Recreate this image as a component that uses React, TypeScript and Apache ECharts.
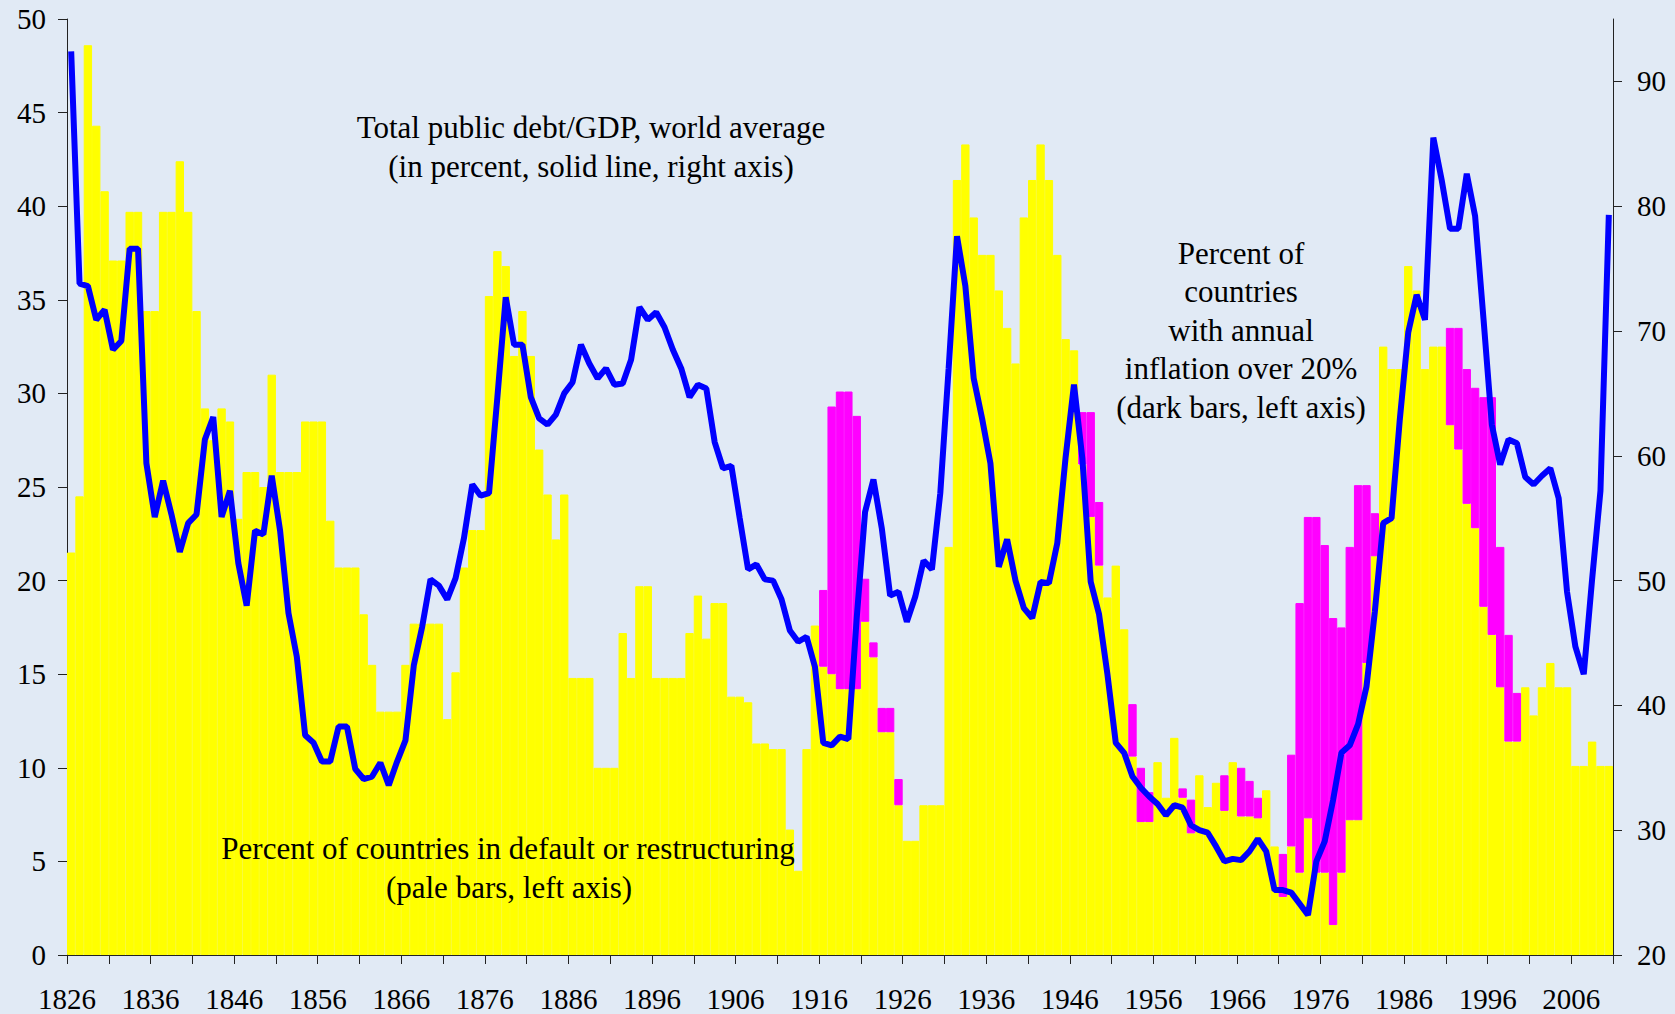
import React, { useEffect, useRef } from "react";
import * as echarts from "echarts";

const START_YEAR = 1826;
const AXIS_END_YEAR = 2011;

// Percent of countries in default or restructuring (pale bars, left axis), 1826-2010
const defaultPct = [
  21.5, 24.5, 48.6, 44.3, 40.8, 37.1, 37.1, 39.7, 39.7, 34.4, // 1826-1835
  34.4, 39.7, 39.7, 42.4, 39.7, 34.4, 29.2, 27.5, 29.2, 28.5, // 1836-1845
  23.3, 25.8, 25.8, 25.0, 31.0, 25.8, 25.8, 25.8, 28.5, 28.5, // 1846-1855
  28.5, 23.2, 20.7, 20.7, 20.7, 18.2, 15.5, 13.0, 13.0, 13.0, // 1856-1865
  15.5, 17.7, 17.7, 17.7, 17.7, 12.6, 15.1, 20.7, 22.7, 22.7, // 1866-1875
  35.2, 37.6, 36.8, 32.0, 34.4, 32.0, 27.0, 24.6, 22.2, 24.6, // 1876-1885
  14.8, 14.8, 14.8, 10.0, 10.0, 10.0, 17.2, 14.8, 19.7, 19.7, // 1886-1895
  14.8, 14.8, 14.8, 14.8, 17.2, 19.2, 16.9, 18.8, 18.8, 13.8, // 1896-1905
  13.8, 13.5, 11.3, 11.3, 11.0, 11.0, 6.7, 4.5, 11.0, 17.6,   // 1906-1915
  15.4, 15.0, 14.2, 14.2, 14.2, 17.8, 15.9, 11.9, 11.9, 8.0,  // 1916-1925
  6.1, 6.1, 8.0, 8.0, 8.0, 21.8, 41.4, 43.3, 39.4, 37.4,      // 1926-1935
  37.4, 35.5, 33.5, 31.6, 39.4, 41.4, 43.3, 41.4, 37.4, 32.9, // 1936-1945
  32.3, 26.2, 23.4, 20.8, 19.1, 20.8, 17.4, 10.6, 7.1, 7.1,   // 1946-1955
  10.3, 8.4, 11.6, 8.4, 6.5, 9.6, 7.9, 9.2, 7.7, 10.3,        // 1956-1965
  7.4, 7.4, 7.3, 8.8, 5.8, 3.1, 5.8, 4.4, 7.3, 4.4,           // 1966-1975
  4.4, 1.6, 4.4, 7.2, 7.2, 15.6, 21.3, 32.5, 31.3, 31.3,      // 1976-1985
  36.8, 35.5, 31.3, 32.5, 32.5, 28.3, 27.0, 24.1, 22.8, 18.6, // 1986-1995
  17.1, 14.3, 11.4, 11.4, 14.3, 12.8, 14.3, 15.6, 14.3, 14.3, // 1996-2005
  10.1, 10.1, 11.4, 10.1, 10.1,                               // 2006-2010
];

// Total public debt/GDP, world average (solid line, right axis), 1826-2010
const debtToGdp = [
  92.4, 73.8, 73.6, 70.9, 71.7, 68.5, 69.2, 76.6, 76.6, 59.4, // 1826-1835
  55.1, 58.0, 55.3, 52.3, 54.6, 55.3, 61.3, 63.1, 55.1, 57.2, // 1836-1845
  51.4, 48.0, 54.0, 53.7, 58.4, 54.0, 47.4, 43.9, 37.6, 37.0, // 1846-1855
  35.5, 35.5, 38.3, 38.3, 34.9, 34.1, 34.3, 35.4, 33.6, 35.5, // 1856-1865
  37.2, 43.2, 46.3, 50.1, 49.6, 48.5, 50.2, 53.4, 57.7, 56.8, // 1866-1875
  57.0, 64.7, 72.7, 68.9, 68.9, 64.7, 63.0, 62.5, 63.3, 65.0, // 1876-1885
  65.9, 68.9, 67.4, 66.2, 67.0, 65.7, 65.8, 67.7, 71.9, 70.9, // 1886-1895
  71.5, 70.3, 68.5, 67.0, 64.7, 65.7, 65.4, 61.1, 59.0, 59.2, // 1896-1905
  55.0, 50.9, 51.3, 50.1, 50.0, 48.5, 46.0, 45.1, 45.5, 43.1, // 1906-1915
  37.0, 36.8, 37.5, 37.3, 47.0, 55.5, 58.1, 54.2, 48.8, 49.1, // 1916-1925
  46.7, 48.7, 51.6, 50.9, 57.0, 67.0, 77.6, 73.6, 66.2, 63.0, // 1926-1935
  59.4, 51.1, 53.3, 50.0, 47.8, 47.0, 49.9, 49.8, 53.0, 59.9, // 1936-1945
  65.7, 59.8, 49.9, 47.3, 42.5, 37.0, 36.2, 34.3, 33.4, 32.7, // 1946-1955
  32.1, 31.2, 32.0, 31.8, 30.4, 30.0, 29.8, 28.7, 27.5, 27.7, // 1956-1965
  27.6, 28.3, 29.3, 28.3, 25.2, 25.2, 25.0, 24.1, 23.2, 27.5, // 1966-1975
  29.1, 32.4, 36.2, 36.8, 38.5, 41.5, 47.5, 54.6, 55.0, 63.0, // 1976-1985
  69.9, 72.9, 70.9, 85.5, 82.1, 78.2, 78.2, 82.6, 79.2, 71.0, // 1986-1995
  62.5, 59.3, 61.3, 61.0, 58.3, 57.7, 58.4, 59.0, 56.6, 49.1, // 1996-2005
  44.7, 42.5, 50.1, 57.2, 79.3,                               // 2006-2010
];

// Percent of countries with annual inflation over 20% (dark bars, left axis), visible years
const inflationYears = [
  1916, 1917, 1918, 1919, 1920, 1921, 1922, 1923, 1924, 1925,
  1947, 1948, 1949, 1953, 1954, 1955, 1959, 1960, 1964, 1966, 1967, 1968,
  1971, 1972, 1973, 1974, 1975, 1976, 1977, 1978, 1979, 1980, 1981, 1982,
  1991, 1992, 1993, 1994, 1995, 1996, 1997, 1998, 1999,
];
const inflationPct = [
  19.5, 29.3, 30.1, 30.1, 28.8, 20.1, 16.7, 13.2, 13.2, 9.4,
  29.0, 29.0, 24.2, 13.4, 10.0, 8.7, 8.9, 8.3, 9.6, 10.0, 9.3, 8.4,
  5.4, 10.7, 18.8, 23.4, 23.4, 21.9, 18.0, 17.5, 21.8, 25.1, 25.1, 23.6,
  33.5, 33.5, 31.3, 30.3, 29.8, 29.8, 21.8, 17.1, 14.0,
];

const xLabelYears = [
  1826, 1836, 1846, 1856, 1866, 1876, 1886, 1896, 1906, 1916,
  1926, 1936, 1946, 1956, 1966, 1976, 1986, 1996, 2006,
];
const leftTicks = [0, 5, 10, 15, 20, 25, 30, 35, 40, 45, 50];
const rightTicks = [20, 30, 40, 50, 60, 70, 80, 90];

const debtNote = ["Total public debt/GDP, world average", "(in percent, solid line, right axis)"];
const defaultNote = ["Percent of countries in default or restructuring", "(pale bars, left axis)"];
const inflationNote = ["Percent of", "countries", "with annual", "inflation over 20%", "(dark bars, left axis)"];

const FONT = '"Liberation Serif", "Times New Roman", serif';
const BG = "#E1EAF5";
const AXIS_COLOR = "#222";

export default function App() {
  const ref = useRef<HTMLDivElement>(null);

  useEffect(() => {
    if (!ref.current) return;
    const chart = echarts.init(ref.current, undefined, { renderer: "svg" });

    const years = defaultPct.map((_, i) => START_YEAR + i);
    // The dark bars sit behind the pale bars: only the part above the pale bar shows,
    // so that part is stacked on the pale bar.
    const inflationExcess = years.map((y, i) => {
      const k = inflationYears.indexOf(y);
      if (k < 0) return null;
      const excess = inflationPct[k] - defaultPct[i];
      return excess > 0 ? +excess.toFixed(2) : null;
    });

    const noteText = (text: string, x: number, y: number) => ({
      type: "text",
      x,
      y,
      z: 100,
      style: {
        text,
        fill: "#000",
        font: `31px ${FONT}`,
        textAlign: "center",
        textVerticalAlign: "middle",
      },
    });

    const labelStyle = { fontSize: 29, fontFamily: FONT, color: "#000" };

    chart.setOption({
      animation: false,
      backgroundColor: BG,
      grid: { left: 67, right: 62, top: 19, bottom: 59, containLabel: false },
      xAxis: [
        {
          type: "category",
          data: years.map(String),
          boundaryGap: true,
          show: false,
        },
        {
          type: "value",
          min: START_YEAR,
          max: AXIS_END_YEAR,
          interval: 5,
          position: "bottom",
          axisLine: { show: true, onZero: false, lineStyle: { color: AXIS_COLOR, width: 1 } },
          axisTick: { show: true, inside: false, length: 9, lineStyle: { color: AXIS_COLOR } },
          axisLabel: {
            ...labelStyle,
            margin: 29,
            showMinLabel: true,
            showMaxLabel: true,
            formatter: (v: number) => (xLabelYears.includes(Math.round(v)) ? String(Math.round(v)) : ""),
          },
          splitLine: { show: false },
        },
      ],
      yAxis: [
        {
          type: "value",
          position: "left",
          min: 0,
          max: 50,
          interval: 5,
          axisLine: { show: true, lineStyle: { color: AXIS_COLOR, width: 1 } },
          axisTick: { show: true, inside: false, length: 9, lineStyle: { color: AXIS_COLOR }, customValues: leftTicks },
          axisLabel: { ...labelStyle, margin: 21, customValues: leftTicks },
          splitLine: { show: false },
        },
        {
          type: "value",
          position: "right",
          min: 20,
          max: 95,
          interval: 10,
          axisLine: { show: true, lineStyle: { color: AXIS_COLOR, width: 1 } },
          axisTick: { show: true, inside: false, length: 9, lineStyle: { color: AXIS_COLOR }, customValues: rightTicks },
          axisLabel: { ...labelStyle, margin: 24, customValues: rightTicks },
          splitLine: { show: false },
        },
      ],
      series: [
        {
          type: "bar",
          name: "default",
          xAxisIndex: 0,
          yAxisIndex: 0,
          stack: "bars",
          data: defaultPct,
          barWidth: "100%",
          z: 3,
          itemStyle: { color: "#FFFF00", borderColor: "#FFFF00", borderWidth: 1 },
        },
        {
          type: "bar",
          name: "inflation",
          xAxisIndex: 0,
          yAxisIndex: 0,
          stack: "bars",
          data: inflationExcess,
          barWidth: "100%",
          z: 4,
          itemStyle: { color: "#FF00FF", borderColor: "#FF00FF", borderWidth: 1 },
        },
        {
          type: "line",
          name: "debt",
          xAxisIndex: 0,
          yAxisIndex: 1,
          data: debtToGdp,
          symbol: "none",
          showSymbol: false,
          z: 5,
          lineStyle: { color: "#0000FF", width: 6 },
        },
      ],
      graphic: [
        noteText(debtNote[0], 591, 127),
        noteText(debtNote[1], 591, 166),
        noteText(defaultNote[0], 508, 848),
        noteText(defaultNote[1], 509, 887),
        ...inflationNote.map((t, i) => noteText(t, 1241, 253 + i * 38.5)),
      ],
    });

    return () => {
      chart.dispose();
    };
  }, []);

  return (
    <div
      ref={ref}
      style={{ position: "fixed", left: 0, top: 0, width: 1675, height: 1014, background: BG }}
    />
  );
}
